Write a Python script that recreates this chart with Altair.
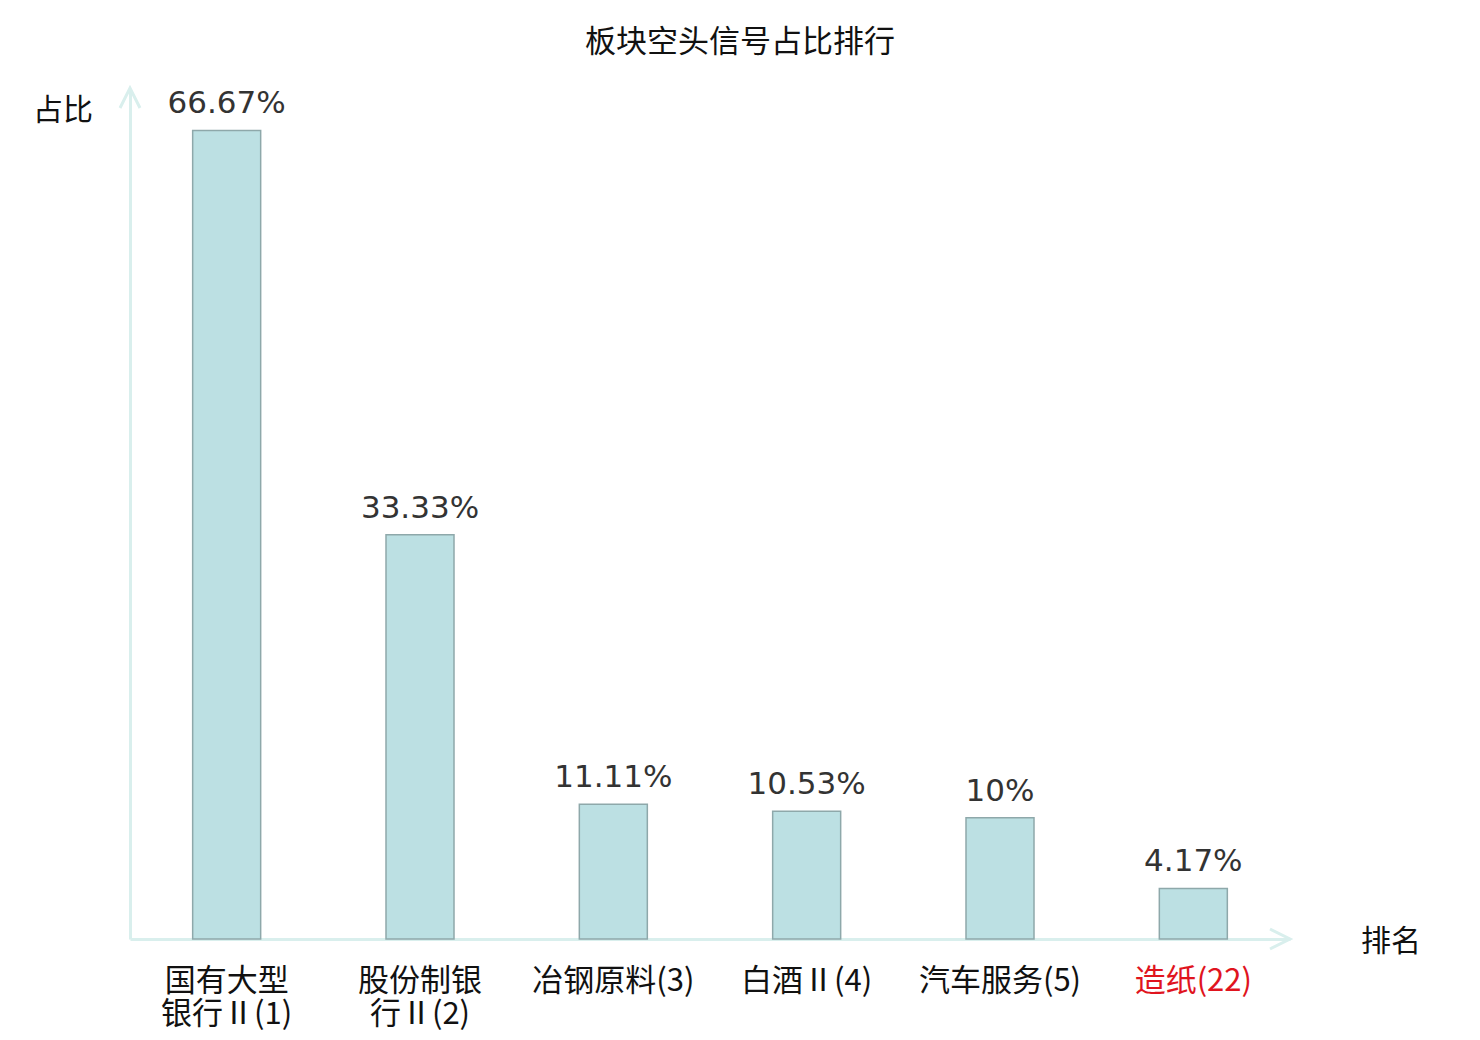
import altair as alt
import pandas as pd

categories = ["国有大型\n银行Ⅱ(1)", "股份制银\n行Ⅱ(2)", "冶钢原料(3)", "白酒Ⅱ(4)", "汽车服务(5)", "造纸(22)"]
values = [66.67, 33.33, 11.11, 10.53, 10.0, 4.17]
value_labels = ["66.67%", "33.33%", "11.11%", "10.53%", "10%", "4.17%"]

df = pd.DataFrame({"cat": categories, "val": values, "lab": value_labels})

W, H = 1160, 849
AXIS_COLOR = "#d9efed"
CJK = "Noto Sans CJK SC"

x = alt.X("cat:N", sort=categories, title=None,
          scale=alt.Scale(paddingInner=0, paddingOuter=0),
          axis=alt.Axis(domainColor=AXIS_COLOR, domainWidth=3, ticks=False, grid=False,
                        labelAngle=0, labelFontSize=31, labelFont=CJK,
                        labelLineHeight=33, labelPadding=27,
                        labelBaseline="top",
                        labelExpr="split(datum.label, '\\n')",
                        labelColor={"condition": {"test": "indexof(datum.value, '造纸') >= 0", "value": "#e0141e"},
                                    "value": "#111111"}))
y = alt.Y("val:Q", title=None, scale=alt.Scale(domain=[0, 70], nice=False, zero=True),
          axis=alt.Axis(domainColor=AXIS_COLOR, domainWidth=3, ticks=False, labels=False, grid=False))

base = alt.Chart(df)

bars = base.mark_bar(size=68, fill="#bce0e3", stroke="#8ea8aa", strokeWidth=1.5).encode(x=x, y=y)

texts = base.mark_text(baseline="bottom", dy=-10, fontSize=31, font="DejaVu Sans",
                       color="#333333").encode(x=alt.X("cat:N", sort=categories), y="val:Q", text="lab:N")

deco = pd.DataFrame({"d": [0]})
arrow_y = alt.Chart(deco).mark_point(shape="M-1,2 L0,0 L1,2", size=400, filled=False,
                                     strokeWidth=3, color=AXIS_COLOR, opacity=1).encode(
    x=alt.value(0), y=alt.value(-2))
arrow_x = alt.Chart(deco).mark_point(shape="M-2,-1 L0,0 L-2,1", size=400, filled=False,
                                     strokeWidth=3, color=AXIS_COLOR, opacity=1).encode(
    x=alt.value(1160), y=alt.value(H))

title_t = alt.Chart(deco).mark_text(text="板块空头信号占比排行", fontSize=31, font=CJK,
                                    color="#111111", baseline="middle").encode(
    x=alt.value(610), y=alt.value(-47))
ylab = alt.Chart(deco).mark_text(text="占比", fontSize=30, font=CJK,
                                 color="#111111", baseline="middle").encode(
    x=alt.value(-67), y=alt.value(21))
xlab = alt.Chart(deco).mark_text(text="排名", fontSize=30, font=CJK,
                                 color="#111111", baseline="middle").encode(
    x=alt.value(1261), y=alt.value(852))

chart = alt.layer(bars, texts, arrow_y, arrow_x, title_t, ylab, xlab).properties(
    width=W, height=H,
    background="white",
    autosize=alt.AutoSizeParams(type="none"),
    padding={"left": 122, "top": 82, "right": 182, "bottom": 100},
).configure_view(strokeWidth=0, stroke=None)

chart.save("out.html", embed_options={"renderer": "svg", "actions": False})
